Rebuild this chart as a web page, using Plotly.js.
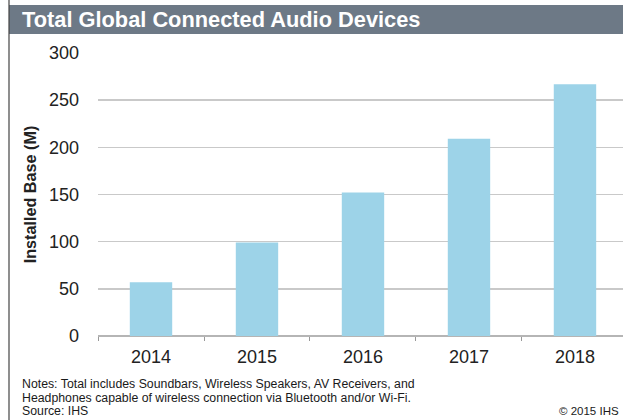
<!DOCTYPE html>
<html>
<head>
<meta charset="utf-8">
<script src="https://cdn.plot.ly/plotly-3.0.1.min.js"></script>
<style>html,body{margin:0;padding:0;background:#fff;}#chart{width:623px;height:420px;}</style>
</head>
<body>
<div id="chart"></div>
<script>
const years = ["2014", "2015", "2016", "2017", "2018"];
const installedBase = [57, 99, 152, 209, 267];
const yTicks = [0, 50, 100, 150, 200, 250, 300];
const titleText = "Total Global Connected Audio Devices";
const yTitle = "Installed Base (M)";
const notes = ["Notes: Total includes Soundbars, Wireless Speakers, AV Receivers, and",
               "Headphones capable of wireless connection via Bluetooth and/or Wi-Fi.",
               "Source: IHS"];
const copyright = "© 2015 IHS";

const W = 623, H = 420;
const ML = 98, MR = 0, MT = 53, MB = 84;
const PW = W - ML - MR, PH = H - MT - MB;
// convert pixel positions to plot-area (paper) fractions
const px = v => (v - ML) / PW, py = v => (H - MB - v) / PH;

const data = [{
  type: "bar",
  x: years,
  y: installedBase,
  marker: {color: "#9dd3e8"},
  width: 0.4,
  hoverinfo: "skip"
}];

const FAM = "Liberation Sans, Arial, sans-serif";
const noteFont = {family: FAM, size: 12.3, color: "#1a1a1a"};
const annotations = [
  {text: "<b>" + titleText + "</b>", xref: "paper", yref: "paper", x: px(20), y: py(19.5),
   xanchor: "left", yanchor: "middle", showarrow: false,
   font: {family: FAM, size: 21.8, color: "#ffffff"}},
  {text: notes[0], xref: "paper", yref: "paper", x: px(20), y: py(384),
   xanchor: "left", yanchor: "middle", showarrow: false, font: noteFont},
  {text: notes[1], xref: "paper", yref: "paper", x: px(20), y: py(397.5),
   xanchor: "left", yanchor: "middle", showarrow: false, font: noteFont},
  {text: notes[2], xref: "paper", yref: "paper", x: px(20), y: py(411),
   xanchor: "left", yanchor: "middle", showarrow: false, font: noteFont},
  {text: copyright, xref: "paper", yref: "paper", x: px(621), y: py(411),
   xanchor: "right", yanchor: "middle", showarrow: false,
   font: {family: FAM, size: 11.5, color: "#1a1a1a"}}
];

const shapes = [
  {type: "rect", xref: "paper", yref: "paper", x0: px(9), x1: px(640), y0: py(5), y1: py(34),
   fillcolor: "#6d7986", line: {width: 0}, layer: "below"},
  {type: "line", xref: "paper", yref: "paper", x0: px(9), x1: px(9), y0: py(0), y1: py(420),
   line: {color: "#444", width: 1.2}}
];

const layout = {
  width: W, height: H,
  margin: {l: ML, r: MR, t: MT, b: MB, pad: 0},
  paper_bgcolor: "#ffffff", plot_bgcolor: "#ffffff",
  showlegend: false,
  font: {family: FAM, color: "#222"},
  xaxis: {
    type: "category",
    range: [-0.5, 4.453],
    tickson: "boundaries",
    ticks: "outside", ticklen: 4, tickcolor: "#999", tickwidth: 1,
    showgrid: false,
    showline: false,
    tickfont: {size: 18, color: "#222"},
    ticklabelstandoff: 8,
    fixedrange: true
  },
  yaxis: {
    range: [0, 300],
    tickvals: yTicks,
    ticktext: yTicks.map(String),
    showgrid: true, gridcolor: "#c9c9c9", gridwidth: 1.5,
    zeroline: true, zerolinecolor: "#b5b5b5", zerolinewidth: 1.5,
    ticks: "", ticklabelstandoff: 18,
    tickfont: {size: 18, color: "#222"},
    title: {text: "<b>" + yTitle + "</b>", font: {size: 16.2, color: "#222"}, standoff: 8},
    fixedrange: true
  },
  bargap: 0.6,
  annotations: annotations,
  shapes: shapes
};

Plotly.newPlot("chart", data, layout, {displayModeBar: false, staticPlot: true});
</script>
</body>
</html>
